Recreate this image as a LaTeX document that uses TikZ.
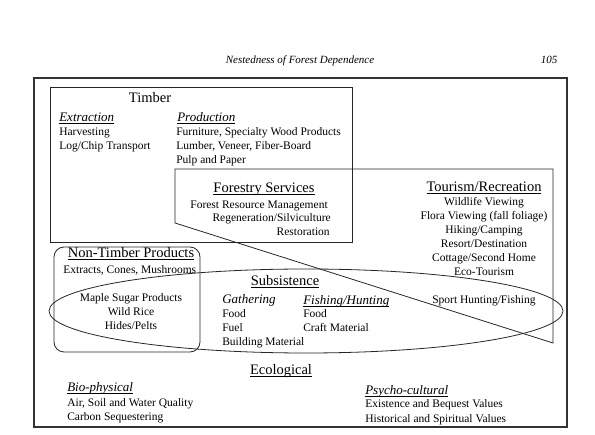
\documentclass[tikz,border=0pt]{standalone}
\usepackage{fontspec}
\setmainfont{Liberation Serif}
\usetikzlibrary{positioning}
\newcommand{\ulin}[1]{\underline{\smash{#1}}}

\begin{document}
\begin{tikzpicture}[x=1pt,y=-1pt,semithick]
\tikzstyle{head}=[font=\fontsize{14.5}{16}\selectfont,inner sep=0pt,anchor=base]
\tikzstyle{sub}=[font=\fontsize{13}{15}\selectfont\itshape,inner sep=0pt,anchor=base west]
\tikzstyle{item}=[font=\fontsize{11.5}{14}\selectfont,inner sep=0pt,anchor=base west]
\tikzstyle{citem}=[item,anchor=base]
\tikzstyle{ritem}=[item,anchor=base east]
\tikzstyle{set}=[draw=black!85,line width=0.8pt]
\useasboundingbox (0,0) rectangle (595,435);
% page head
\node[font=\fontsize{11}{13}\selectfont\itshape,inner sep=0pt,anchor=base] (title) at (300,64) {Nestedness of Forest Dependence};
\node[font=\fontsize{11}{13}\selectfont\itshape,inner sep=0pt,anchor=base] (page) at (549,64) {105};
% frame and sets
\draw[draw=black!80,line width=2.2pt] (34,78) rectangle (567,427);
\draw[set] (50,87) rectangle (352,242);
\draw[set] (175,169) -- (553,169) -- (553,343) -- (175,223) -- cycle;
\draw[set,rounded corners=10pt] (54,247) rectangle (200,352);
\draw[set] (306,311) ellipse [x radius=257,y radius=42];
% timber
\node[head] (timber) at (150,103) {Timber};
\node[sub] (extr) at (59,121.5) {\ulin{Extraction}};
\node[item] (harv) at (59,136) {Harvesting};
\node[item] (log) at (59,150) {Log/Chip Transport};
\node[sub] (prod) at (177,121.5) {\ulin{Production}};
\node[item] (furn) at (176,136) {Furniture, Specialty Wood Products};
\node[item] (lumb) at (176,150) {Lumber, Veneer, Fiber-Board};
\node[item] (pulp) at (176,164) {Pulp and Paper};
% forestry services
\node[head] (forest) at (264,193) {\ulin{Forestry Services}};
\node[ritem] (frm) at (328,209) {Forest Resource Management};
\node[ritem] (regen) at (331,222) {Regeneration/Silviculture};
\node[ritem] (rest) at (330,236) {Restoration};
% tourism
\node[head] (tour) at (484,192) {\ulin{Tourism/Recreation}};
\node[citem] (wild) at (484,206) {Wildlife Viewing};
\node[citem] (flora) at (484,220) {Flora Viewing (fall foliage)};
\node[citem] (hike) at (484,234) {Hiking/Camping};
\node[citem] (resort) at (484,248) {Resort/Destination};
\node[citem] (cott) at (484,262) {Cottage/Second Home};
\node[citem] (eco) at (484,276) {Eco-Tourism};
\node[item] (sport) at (432,304) {Sport Hunting/Fishing};
% non-timber
\node[head] (ntp) at (131,258) {\ulin{Non-Timber Products}};
\node[item] (extc) at (63,274) {Extracts, Cones, Mushrooms};
\node[citem] (maple) at (131,302) {Maple Sugar Products};
\node[citem] (rice) at (131,316) {Wild Rice};
\node[citem] (hides) at (131,330) {Hides/Pelts};
% subsistence
\node[head] (subs) at (285,286) {\ulin{Subsistence}};
\node[sub] (gath) at (222,303.5) {Gathering};
\node[item] (gfood) at (222,318) {Food};
\node[item] (fuel) at (222,332) {Fuel};
\node[item] (build) at (222,346) {Building Material};
\node[sub] (fish) at (303,304.5) {\ulin{Fishing/Hunting}};
\node[item] (ffood) at (303,318) {Food};
\node[item] (craft) at (303,332) {Craft Material};
% ecological
\node[head] (ecol) at (281,375) {\ulin{Ecological}};
\node[sub] (bio) at (67,391.5) {\ulin{Bio-physical}};
\node[item] (air) at (67,407) {Air, Soil and Water Quality};
\node[item] (carb) at (67,421) {Carbon Sequestering};
\node[sub] (psy) at (365,394.5) {\ulin{Psycho-cultural}};
\node[item] (exist) at (365,408) {Existence and Bequest Values};
\node[item] (hist) at (365,423) {Historical and Spiritual Values};
\end{tikzpicture}
\end{document}
